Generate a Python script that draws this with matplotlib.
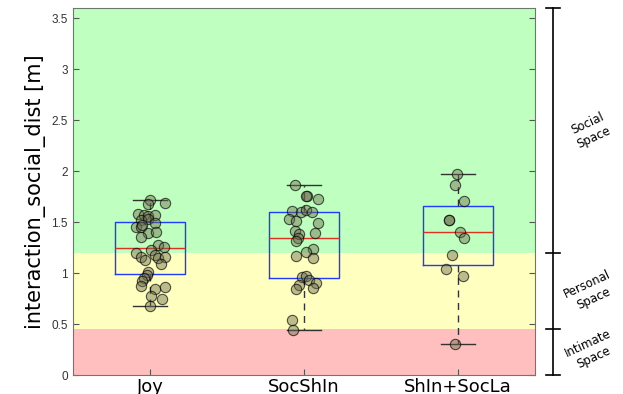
import matplotlib.pyplot as plt
import numpy as np
from matplotlib.transforms import blended_transform_factory

# Data
groups = ["Joy", "SocShIn", "ShIn+SocLa"]

joy = [1.72, 1.68, 1.69, 1.58, 1.57, 1.56, 1.57, 1.52, 1.53, 1.49, 1.45, 1.45,
       1.47, 1.39, 1.40, 1.35, 1.28, 1.26, 1.20, 1.16, 1.13, 1.23, 1.18, 1.15,
       1.16, 1.09, 1.01, 0.98, 0.95, 0.92, 0.87, 0.84, 0.86, 0.78, 0.75, 0.68]
joy_jitter = [0.00, -0.01, 0.10, -0.08, -0.04, -0.01, 0.03, -0.06, -0.01, 0.03, -0.09, -0.06,
              -0.05, -0.01, 0.04, -0.06, 0.05, 0.09, -0.09, -0.06, -0.03, 0.01, 0.03, 0.05,
              0.10, 0.07, -0.01, -0.02, -0.04, -0.05, -0.06, 0.03, 0.10, 0.01, 0.08, 0.00]

socshin = [1.86, 1.76, 1.76, 1.73, 1.61, 1.60, 1.62, 1.60, 1.53, 1.51, 1.49, 1.41,
           1.38, 1.39, 1.34, 1.31, 1.24, 1.21, 1.17, 1.15, 0.96, 0.97, 0.93, 0.90,
           0.88, 0.84, 0.85, 0.54, 0.44]
socshin_jitter = [-0.06, 0.02, 0.01, 0.09, -0.08, -0.02, 0.01, 0.05, -0.10, -0.05, 0.09, -0.06,
                  -0.03, 0.07, -0.04, -0.05, 0.06, 0.01, -0.05, 0.06, -0.01, 0.01, 0.03, 0.08,
                  -0.03, -0.05, 0.06, -0.08, -0.07]

shinsocla = [1.97, 1.86, 1.71, 1.52, 1.52, 1.40, 1.34, 1.18, 1.04, 0.97, 0.30]
shinsocla_jitter = [-0.01, -0.02, 0.04, -0.06, -0.06, 0.01, 0.04, -0.04, -0.08, 0.03, -0.02]

zone_edges = [0, 0.45, 1.2, 3.6]
zone_colors = ["#ffbfbf", "#ffffbf", "#bfffbf"]
zone_names = ["Intimate\nSpace", "Personal\nSpace", "Social\nSpace"]

values = [joy, socshin, shinsocla]
jitters = [joy_jitter, socshin_jitter, shinsocla_jitter]

fig = plt.figure(figsize=(6.23, 3.94), dpi=100)
ax = fig.add_axes([0.117, 0.048, 0.742, 0.932])

# coloured proxemic zones
for lo, hi, c in zip(zone_edges[:-1], zone_edges[1:], zone_colors):
    ax.axhspan(lo, hi, color=c, lw=0, zorder=0)

# box stats like MATLAB (hazen quantiles, 1.5 IQR whiskers)
stats = []
for v in values:
    v = np.sort(np.array(v))
    q1, med, q3 = np.percentile(v, [25, 50, 75], method="hazen")
    iqr = q3 - q1
    lo = v[v >= q1 - 1.5 * iqr].min()
    hi = v[v <= q3 + 1.5 * iqr].max()
    stats.append(dict(med=med, q1=q1, q3=q3, whislo=lo, whishi=hi, fliers=[]))

pos = np.arange(1, len(groups) + 1)
ax.bxp(stats, positions=pos, widths=0.45, showfliers=False,
       boxprops=dict(color="#1f3cff", lw=1.0),
       medianprops=dict(color="#e03020", lw=1.0),
       whiskerprops=dict(color="#333333", lw=1.0, linestyle=(0, (5, 4))),
       capprops=dict(color="#333333", lw=1.0),
       capwidths=0.22, zorder=2)

for p, v, j in zip(pos, values, jitters):
    ax.scatter(p + np.array(j), v, s=55, facecolor=(0.42, 0.42, 0.3, 0.45),
               edgecolor=(0, 0, 0, 0.65), linewidths=0.8, zorder=3)

ax.set_xlim(0.5, 3.5)
ax.set_ylim(0, 3.6)
ax.set_yticks(np.arange(0, 3.51, 0.5))
ax.set_yticklabels(["0", "0.5", "1", "1.5", "2", "2.5", "3", "3.5"],
                   fontfamily="Liberation Sans", fontsize=8.5, color="#333333")
ax.set_xticks(pos)
ax.set_xticklabels(groups, fontsize=13)
ax.tick_params(direction="in", length=4, right=True, top=False, color="#555555")
ax.tick_params(axis="x", pad=2)
ax.set_ylabel("interaction_social_dist [m]", fontsize=15, labelpad=4)
for s in ax.spines.values():
    s.set_color("#6a7a6a")
    s.set_linewidth(0.8)

# bracket on the right marking the zones
tr = blended_transform_factory(ax.transAxes, ax.transData)
ax.plot([1.039, 1.039], [zone_edges[0], zone_edges[-1]], transform=tr,
        color="black", lw=1.2, clip_on=False)
for e in zone_edges:
    ax.plot([1.024, 1.054], [e, e], transform=tr, color="black", lw=1.2, clip_on=False)

label_y = [0.24, 0.82, 2.4]
for y, name in zip(label_y, zone_names):
    ax.text(1.12, y, name, transform=tr, rotation=25, fontsize=8.5,
            ha="center", va="center", multialignment="center")

fig.savefig("out.png", dpi=100)
